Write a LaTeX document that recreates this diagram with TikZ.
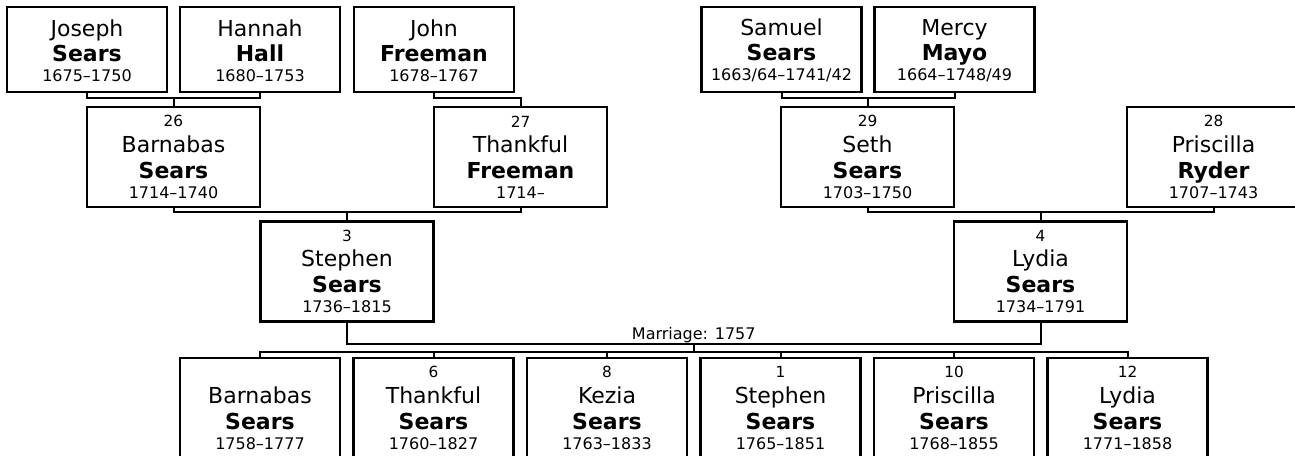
\documentclass[tikz,border=0pt]{standalone}
\usepackage{fontspec}
\setmainfont{DejaVu Sans}
\usetikzlibrary{calc}
\newcommand{\pnum}[1]{{\fontsize{11.5}{19}\selectfont #1}}
\newcommand{\sur}[1]{{\bfseries #1}}
\newcommand{\yrs}[1]{{\fontsize{12}{19}\selectfont #1}}
\tikzset{
	person/.style = {rectangle, draw=black, line width=1.6pt, align=center, inner sep=0pt, font=\fontsize{16.5}{19}\selectfont},
	elder/.style = {person, minimum width=120pt, minimum height=63.75pt},
	heir/.style = {person, minimum width=129.75pt, minimum height=75pt},
	kid/.style = {person, minimum width=120pt, minimum height=75pt},
	link/.style = {draw=black, line width=1.5pt},
	note/.style = {font=\fontsize{12}{14}\selectfont, inner sep=0.5pt}
}

\begin{document}
\begin{tikzpicture}[x=0.75pt, y=-0.75pt]
\useasboundingbox (0,0) rectangle (1295,455);
\clip (0,0) rectangle (1295,455);

\node [elder] (joseph) at (87,49.5) {\rule{0pt}{14pt}Joseph\\ \sur{Sears}\\[-4pt] \yrs{1675–1750}};
\node [elder] (hannah) at (260,49.5) {\rule{0pt}{14pt}Hannah\\ \sur{Hall}\\[-4pt] \yrs{1680–1753}};
\node [elder] (john) at (434,49.5) {\rule{0pt}{14pt}John\\ \sur{Freeman}\\[-4pt] \yrs{1678–1767}};
\node [elder] (samuel) at (781.5,49.5) {\rule{0pt}{14pt}Samuel\\ \sur{Sears}\\[-4pt] \yrs{1663/64–1741/42}};
\node [elder] (mercy) at (954.5,49.5) {\rule{0pt}{14pt}Mercy\\ \sur{Mayo}\\[-4pt] \yrs{1664–1748/49}};

\node [heir] (barnabas) at (173.5,157) {\pnum{26}\\ Barnabas\\[0.5pt] \sur{Sears}\\[-4pt] \yrs{1714–1740}};
\node [heir] (thankful) at (520.5,157) {\pnum{27}\\ Thankful\\[0.5pt] \sur{Freeman}\\[-4pt] \yrs{1714–}};
\node [heir] (seth) at (867.5,157) {\pnum{29}\\ Seth\\[0.5pt] \sur{Sears}\\[-4pt] \yrs{1703–1750}};
\node [heir] (priscilla) at (1213.5,157) {\pnum{28}\\ Priscilla\\[0.5pt] \sur{Ryder}\\[-4pt] \yrs{1707–1743}};

\node [heir] (stephen) at (347,271.5) {\pnum{3}\\ Stephen\\[0.5pt] \sur{Sears}\\[-4pt] \yrs{1736–1815}};
\node [heir] (lydia) at (1040.5,271.5) {\pnum{4}\\ Lydia\\[0.5pt] \sur{Sears}\\[-4pt] \yrs{1734–1791}};

\node [kid] (barnabasjr) at (260,408) {\pnum{\phantom{0}}\\ Barnabas\\[0.5pt] \sur{Sears}\\[-4pt] \yrs{1758–1777}};
\node [kid] (thankfuljr) at (433.5,408) {\pnum{6}\\ Thankful\\[0.5pt] \sur{Sears}\\[-4pt] \yrs{1760–1827}};
\node [kid] (kezia) at (607,408) {\pnum{8}\\ Kezia\\[0.5pt] \sur{Sears}\\[-4pt] \yrs{1763–1833}};
\node [kid] (stephenjr) at (780.5,408) {\pnum{1}\\ Stephen\\[0.5pt] \sur{Sears}\\[-4pt] \yrs{1765–1851}};
\node [kid] (priscillajr) at (954,408) {\pnum{10}\\ Priscilla\\[0.5pt] \sur{Sears}\\[-4pt] \yrs{1768–1855}};
\node [kid] (lydiajr) at (1127.5,408) {\pnum{12}\\ Lydia\\[0.5pt] \sur{Sears}\\[-4pt] \yrs{1771–1858}};

\coordinate (jh) at ($(barnabas.north)+(0,-7.5)$);
\coordinate (jt) at ($(thankful.north)+(0,-7.5)$);
\coordinate (sm) at ($(seth.north)+(0,-7.5)$);
\coordinate (bt) at ($(stephen.north)+(0,-8)$);
\coordinate (sp) at ($(lydia.north)+(0,-8)$);
\coordinate (wed) at ($(stephen.south)!.5!(lydia.south)+(0,21)$);
\coordinate (kids) at ($(wed)+(0,8)$);

\draw [link] (joseph.south) |- (jh) -| (hannah.south);
\draw [link] (jh) -- (barnabas.north);
\draw [link] (john.south) |- (jt) -- (thankful.north);
\draw [link] (samuel.south) |- (sm) -| (mercy.south);
\draw [link] (sm) -- (seth.north);
\draw [link] (barnabas.south) |- (bt) -| (thankful.south);
\draw [link] (bt) -- (stephen.north);
\draw [link] (seth.south) |- (sp) -| (priscilla.south);
\draw [link] (sp) -- (lydia.north);
\draw [link] (stephen.south) |- (wed) -| (lydia.south);
\node [note, anchor=south] (marriage) at (wed) {Marriage: 1757};
\draw [link] (wed) -- (kids);
\draw [link] (barnabasjr.north) |- (kids) -| (lydiajr.north);
\foreach \k in {thankfuljr,kezia,stephenjr,priscillajr}
	\draw [link] (\k.north) -- (\k.north |- kids);
\end{tikzpicture}
\end{document}
